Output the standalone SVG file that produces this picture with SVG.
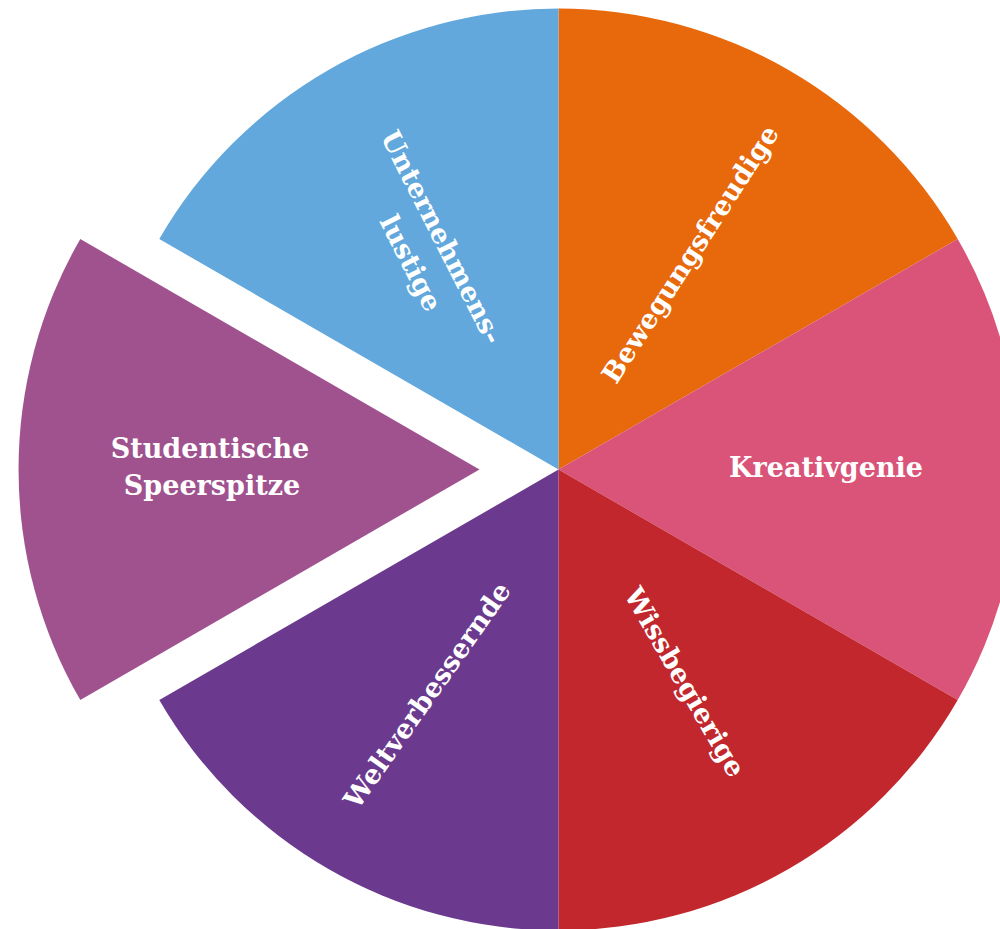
<svg xmlns="http://www.w3.org/2000/svg" width="1000" height="929" viewBox="0 0 1000 929">
  <style>
    .lbl { font-family: "DejaVu Serif", "Liberation Serif", serif; font-weight: bold; font-size: 27px; fill: #ffffff; text-anchor: middle; }
    .c { dominant-baseline: central; }
  </style>
  <rect x="0" y="0" width="1000" height="929" fill="#ffffff"/>
  <g id="seg-bewegungsfreudige">
    <path d="M558.5,469.5 L558.5,8.5 A461,461 0 0 1 957.7,239 Z" fill="#E8680C"/>
    <text class="lbl c" transform="translate(690,254) rotate(-57)">Bewegungsfreudige</text>
  </g>
  <g id="seg-kreativgenie">
    <path d="M558.5,469.5 L957.7,239 A461,461 0 0 1 957.7,700 Z" fill="#D95478"/>
    <text class="lbl" x="826" y="477">Kreativgenie</text>
  </g>
  <g id="seg-wissbegierige">
    <path d="M558.5,469.5 L957.7,700 A461,461 0 0 1 558.5,930.5 Z" fill="#C1272D"/>
    <text class="lbl c" transform="translate(685,682) rotate(60)">Wissbegierige</text>
  </g>
  <g id="seg-weltverbessernde">
    <path d="M558.5,469.5 L558.5,930.5 A461,461 0 0 1 159.3,700 Z" fill="#6B3A8E"/>
    <text class="lbl c" transform="translate(427,695) rotate(-55)">Weltverbessernde</text>
  </g>
  <g id="seg-studentische-speerspitze">
    <path d="M479.5,469.5 L80.3,700 A461,461 0 0 1 80.3,239 Z" fill="#A0528F"/>
    <text class="lbl" x="210" y="458">Studentische</text>
    <text class="lbl" x="212" y="495">Speerspitze</text>
  </g>
  <g id="seg-unternehmenslustige">
    <path d="M558.5,469.5 L159.3,239 A461,461 0 0 1 558.5,8.5 Z" fill="#62A8DC"/>
    <text class="lbl c" transform="translate(442,237) rotate(63)">Unternehmens-</text>
    <text class="lbl c" transform="translate(411,263) rotate(63)">lustige</text>
  </g>
</svg>
